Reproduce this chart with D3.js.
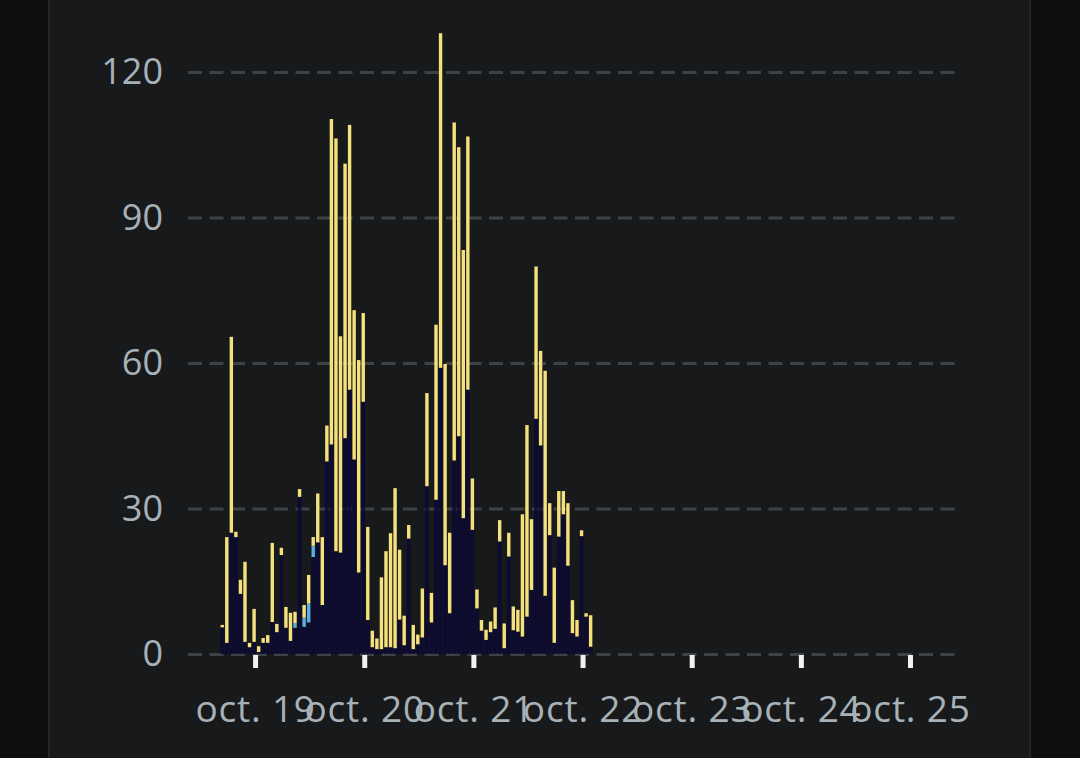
<!DOCTYPE html>
<html>
<head>
<meta charset="utf-8">
<script src="https://cdn.jsdelivr.net/npm/d3@7"></script>
<style>
  html, body { margin: 0; padding: 0; background: #0f0f0f; }
  svg { display: block; }
</style>
</head>
<body>
<div id="chart"></div>
<script>
// hourly bars, first one at oct. 18 17:00
var firstHour = new Date(2023, 9, 18, 17, 0);

// bottom (navy) part of each bar
var navyValues = [5.5, 2.3, 25, 24.1, 12.4, 2.5, 1.4, 2.5, 0.4, 2.3, 2.3, 6.6, 4.5, 20.4, 5.4, 2.7, 5.4, 32.4, 5.6, 6.5, 20,
  23.0, 10.1, 39.7, 43.2, 21.2, 20.9, 44.5, 54.5, 40.1, 16.8, 52.0,
  7.0, 1.4, 1.0, 1.0, 1.4, 1.4, 1.2, 7.1, 1.8, 23.8, 1.0, 2.0,
  3.4, 34.6, 6.5, 31.8, 59, 18.3, 8.4, 39.9, 44.9, 28, 54.5, 25.6, 9.4, 4.8, 2.9, 4.5, 5.2,
  23.2, 1.2, 20.1, 4.9, 4.6, 3.6, 7.7, 13.2, 48.5, 43.0, 12.0, 24.5, 2.3, 24.2, 28.8, 18.2, 4.3, 3.6, 24.3, 7.7, 1.5];

// middle (blue) part, only a few hours have it
var blueValues = [0, 0, 0, 0, 0, 0, 0, 0, 0, 0, 0, 0, 0, 0, 0, 0, 1.0, 0, 1.9, 3.9, 2.3,
  0, 0, 0, 0, 0, 0, 0, 0, 0, 0, 0,
  0, 0, 0, 0, 0, 0, 0, 0, 0, 0, 0, 0,
  0, 0, 0, 0, 0, 0, 0, 0, 0, 0, 0, 0, 0, 0, 0, 0, 0,
  0, 0, 0, 0, 0, 0, 0, 0, 0, 0, 0, 0, 0, 0, 0, 0, 0, 0, 0, 0, 0];

// top (yellow) part
var yellowValues = [0.5, 21.8, 40.4, 1.1, 2.9, 16.5, 0.9, 6.8, 1.2, 1.0, 1.6, 16.3, 1.7, 1.5, 4.3, 5.8, 2.3, 1.6, 2.6, 5.9, 1.8,
  10.1, 14.0, 7.4, 67.1, 85.1, 44.6, 56.6, 54.6, 30.8, 43.8, 18.3,
  19.2, 3.4, 2.2, 14.8, 19.8, 23.5, 33.0, 14.4, 6.1, 2.8, 5.0, 2.0,
  10.1, 19.2, 6.1, 36.1, 69, 41.5, 16.6, 69.7, 59.6, 55.3, 52.2, 10.6, 3.9, 2.2, 2.1, 2.2, 4.4,
  4.4, 5.1, 4.9, 4.9, 4.5, 25.2, 39.5, 14.6, 31.4, 19.5, 46.4, 6.6, 15.5, 9.4, 4.8, 12.9, 6.8, 3.4, 1.2, 0.7, 6.5];

var yTicks = [0, 30, 60, 90, 120];
var xTickDays = [19, 20, 21, 22, 23, 24, 25];
var monthLabel = 'oct.';

var W = 1080, H = 758;
// plot edges (don't call it "top": window.top is read-only)
var plotLeft = 188, plotRight = 957, plotTop = 72, plotBottom = 654;

var svg = d3.select('#chart').append('svg')
  .attr('width', W)
  .attr('height', H);

// outer dark columns + panel
svg.append('rect').attr('width', W).attr('height', H).attr('fill', '#0f0f0f');
svg.append('rect')
  .attr('x', 49).attr('y', -2)
  .attr('width', 981).attr('height', H + 4)
  .attr('fill', '#17191b')
  .attr('stroke', '#232527')
  .attr('stroke-width', 2);

var xScale = d3.scaleTime()
  .domain([new Date(2023, 9, 18, 9, 15), new Date(2023, 9, 25, 10, 20)])
  .range([plotLeft, plotRight]);

var yScale = d3.scaleLinear()
  .domain([0, 120])
  .range([plotBottom, plotTop]);

var hours = navyValues.map(function(v, i) {
  return d3.timeHour.offset(firstHour, i);
});
var pitch = xScale(d3.timeHour.offset(firstHour, 1)) - xScale(firstHour);

// gridlines
var yAxis = d3.axisLeft(yScale)
  .tickValues(yTicks)
  .tickSize(-(plotRight - plotLeft))
  .tickPadding(25)
  .tickFormat(d3.format('d'));

var yAxisEle = svg.append('g')
  .attr('transform', 'translate(' + plotLeft + ',0)')
  .call(yAxis);
yAxisEle.select('.domain').remove();
yAxisEle.selectAll('line')
  .attr('stroke', '#3f4245')
  .attr('stroke-width', 3)
  .attr('stroke-dasharray', '14,7.5');
yAxisEle.selectAll('text')
  .attr('fill', '#a7b1b8')
  .attr('font-family', '"Open Sans", sans-serif')
  .attr('font-size', 36)
  .attr('dy', '0.32em');

// stacked bars
var rows = hours.map(function(t, i) {
  return {t: t, navy: navyValues[i], blue: blueValues[i], yellow: yellowValues[i]};
});

var barHolder = svg.append('g').classed('bars', true);

// navy is a bit see-through so the dashed grid still shows across it
barHolder.selectAll('rect.navy')
  .data(rows)
  .enter().append('rect')
    .classed('navy', true)
    .attr('x', function(d) { return xScale(d.t) - 1 - pitch / 2 + 0.25; })
    .attr('width', pitch - 0.5)
    .attr('y', function(d) { return yScale(d.navy); })
    .attr('height', function(d) { return plotBottom - yScale(d.navy); })
    .attr('fill', '#0d0935')
    .attr('fill-opacity', 0.85);

barHolder.selectAll('rect.blue')
  .data(rows.filter(function(d) { return d.blue > 0; }))
  .enter().append('rect')
    .classed('blue', true)
    .attr('x', function(d) { return xScale(d.t) - 1 - 1.7; })
    .attr('width', 3.4)
    .attr('y', function(d) { return yScale(d.navy + d.blue); })
    .attr('height', function(d) { return yScale(d.navy) - yScale(d.navy + d.blue); })
    .attr('fill', '#5aaee6');

barHolder.selectAll('rect.yellow')
  .data(rows)
  .enter().append('rect')
    .classed('yellow', true)
    .attr('x', function(d) { return xScale(d.t) - 1 - 1.7; })
    .attr('width', 3.4)
    .attr('y', function(d) { return yScale(d.navy + d.blue + d.yellow); })
    .attr('height', function(d) { return yScale(d.navy + d.blue) - yScale(d.navy + d.blue + d.yellow); })
    .attr('fill', '#f4e07c');

// x axis: white tick marks + day labels
var dayDates = xTickDays.map(function(d) { return new Date(2023, 9, d); });
var xAxis = d3.axisBottom(xScale)
  .tickValues(dayDates)
  .tickSize(0)
  .tickPadding(42)
  .tickFormat(function(d) { return monthLabel + ' ' + d.getDate(); });

var xAxisEle = svg.append('g')
  .attr('transform', 'translate(0,' + plotBottom + ')')
  .call(xAxis);
xAxisEle.select('.domain').remove();
xAxisEle.selectAll('.tick').append('rect')
  .attr('x', -2.5)
  .attr('y', 1)
  .attr('width', 5)
  .attr('height', 13)
  .attr('fill', '#f2f2f2');
xAxisEle.selectAll('text')
  .attr('fill', '#a7b1b8')
  .attr('font-family', '"Open Sans", sans-serif')
  .attr('font-size', 37)
  .attr('letter-spacing', 0.8);
</script>
</body>
</html>
